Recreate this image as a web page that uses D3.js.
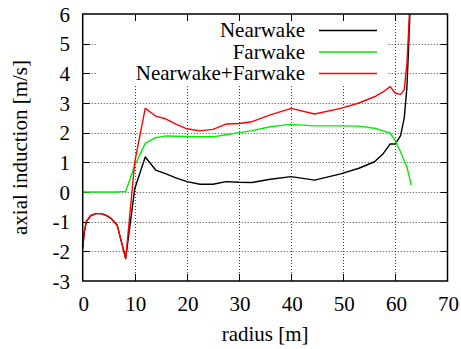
<!DOCTYPE html>
<html><head><meta charset="utf-8">
<script src="https://cdn.jsdelivr.net/npm/d3@7"></script>
</head><body style="margin:0">
<script>
const radius   = [0, 0.3, 0.7, 1.5, 2.5, 3.5, 4.5, 5.5, 6.6, 8.25, 10, 12, 14, 16, 18, 20, 22.5, 25, 27.5, 30, 32.5, 36, 40, 44.5, 49.5, 53, 56, 57.7, 59, 60, 61, 61.7, 62.2, 62.5, 62.8, 63];
const nearwake = [-1.9, -1.35, -1.0, -0.8, -0.73, -0.73, -0.79, -0.9, -1.11, -2.24, 0.12, 1.18, 0.74, 0.61, 0.47, 0.35, 0.26, 0.26, 0.35, 0.33, 0.32, 0.43, 0.52, 0.40, 0.61, 0.80, 1.02, 1.30, 1.62, 1.62, 1.9, 2.5, 3.5, 4.7, 6.1, 7.5];
const farwake  = [0, 0, 0, 0, 0, 0, 0, 0, 0, 0.02, 0.9, 1.64, 1.83, 1.89, 1.88, 1.87, 1.86, 1.86, 1.93, 2.0, 2.07, 2.2, 2.28, 2.23, 2.23, 2.22, 2.15, 2.06, 1.98, 1.72, 1.35, 1.05, 0.85, 0.63, 0.42, 0.24];
const combined = [-1.9, -1.35, -1.0, -0.8, -0.73, -0.73, -0.79, -0.9, -1.11, -2.24, 1.02, 2.82, 2.56, 2.46, 2.28, 2.13, 2.06, 2.11, 2.29, 2.31, 2.37, 2.6, 2.82, 2.63, 2.82, 3.0, 3.21, 3.38, 3.55, 3.33, 3.29, 3.45, 4.3, 5.3, 6.5, 8.5];
const xTicks = [0, 10, 20, 30, 40, 50, 60, 70];
const yTicks = [-3, -2, -1, 0, 1, 2, 3, 4, 5, 6];
const seriesNames = ["Nearwake", "Farwake", "Nearwake+Farwake"];
const seriesColors = ["#000000", "#00ee00", "#ff0000"];

const W = 461, H = 349;
const L = 82.7, R = 447.5, T = 14, B = 281;
const svg = d3.select("body").append("svg").attr("width", W).attr("height", H);
const x = d3.scaleLinear().domain([0, 70]).range([L, R]);
const y = d3.scaleLinear().domain([-3, 6]).range([B, T]);

// place text with manual anchoring (start-anchored, shifted by measured width)
function label(str, px, py, anchor, rotate) {
  const t = svg.append("text").style("font-family", '"Liberation Serif"').style("font-size", "21px")
    .text(String(str));
  const w = t.node().getComputedTextLength();
  const off = anchor === "middle" ? w / 2 : anchor === "end" ? w : 0;
  if (rotate) {
    t.attr("x", -off).attr("y", 0).attr("transform", `translate(${px},${py}) rotate(-90)`);
  } else {
    t.attr("x", px - off).attr("y", py);
  }
  return t;
}

// grid
const grid = svg.append("g").attr("stroke", "#000").attr("stroke-opacity", 0.75)
  .attr("stroke-width", 1).attr("stroke-dasharray", "1,2");
grid.selectAll("line.gx").data(xTicks.slice(1, -1)).join("line")
  .attr("x1", d => Math.round(x(d)) + 0.5).attr("x2", d => Math.round(x(d)) + 0.5)
  .attr("y1", T).attr("y2", B);
grid.selectAll("line.gy").data(yTicks.slice(1, -1)).join("line")
  .attr("y1", d => Math.round(y(d)) + 0.5).attr("y2", d => Math.round(y(d)) + 0.5)
  .attr("x1", L).attr("x2", R);

// legend mask
svg.append("rect").attr("x", 96).attr("y", T + 1).attr("width", 292).attr("height", 71).attr("fill", "#fff");

// ticks (all four sides, inward)
const tk = svg.append("g").attr("stroke", "#000").attr("stroke-width", 1);
const TL = 7;
xTicks.slice(1, -1).forEach(d => {
  const px = Math.round(x(d)) + 0.5;
  tk.append("line").attr("x1", px).attr("x2", px).attr("y1", B).attr("y2", B - TL);
  tk.append("line").attr("x1", px).attr("x2", px).attr("y1", T).attr("y2", T + TL);
});
yTicks.slice(1, -1).forEach(d => {
  const py = Math.round(y(d)) + 0.5;
  tk.append("line").attr("y1", py).attr("y2", py).attr("x1", L).attr("x2", L + TL);
  tk.append("line").attr("y1", py).attr("y2", py).attr("x1", R).attr("x2", R - TL);
});

// data lines
svg.append("clipPath").attr("id", "clip").append("rect")
  .attr("x", L).attr("y", T).attr("width", R - L).attr("height", B - T);
const seriesData = [nearwake, farwake, combined];
const line = d3.line().x(d => x(d[0])).y(d => y(d[1]));
seriesData.forEach((vals, i) => {
  svg.append("path").attr("clip-path", "url(#clip)")
    .attr("d", line(radius.map((r, j) => [r, vals[j]])))
    .attr("fill", "none").attr("stroke", seriesColors[i]).attr("stroke-width", 1.4)
    .attr("stroke-linejoin", "round");
});

// border
svg.append("rect").attr("x", L).attr("y", T).attr("width", R - L).attr("height", B - T)
  .attr("fill", "none").attr("stroke", "#000").attr("stroke-width", 1.5);

// tick labels
xTicks.forEach(d => label(d, x(d) + 1, 311, "middle"));
yTicks.forEach(d => label(d, 70, y(d) + 7.5, "end"));

// axis titles
label("radius [m]", (L + R) / 2, 341, "middle");
label("axial induction [m/s]", 27, (T + B) / 2, "middle", true);

// legend
const rows = [30.5, 52, 73.5];
seriesNames.forEach((n, i) => {
  label(n, 305, rows[i] + 6.5, "end");
  svg.append("line").attr("x1", 319).attr("x2", 377).attr("y1", rows[i]).attr("y2", rows[i])
    .attr("stroke", seriesColors[i]).attr("stroke-width", 1.4);
});
</script>
</body></html>
